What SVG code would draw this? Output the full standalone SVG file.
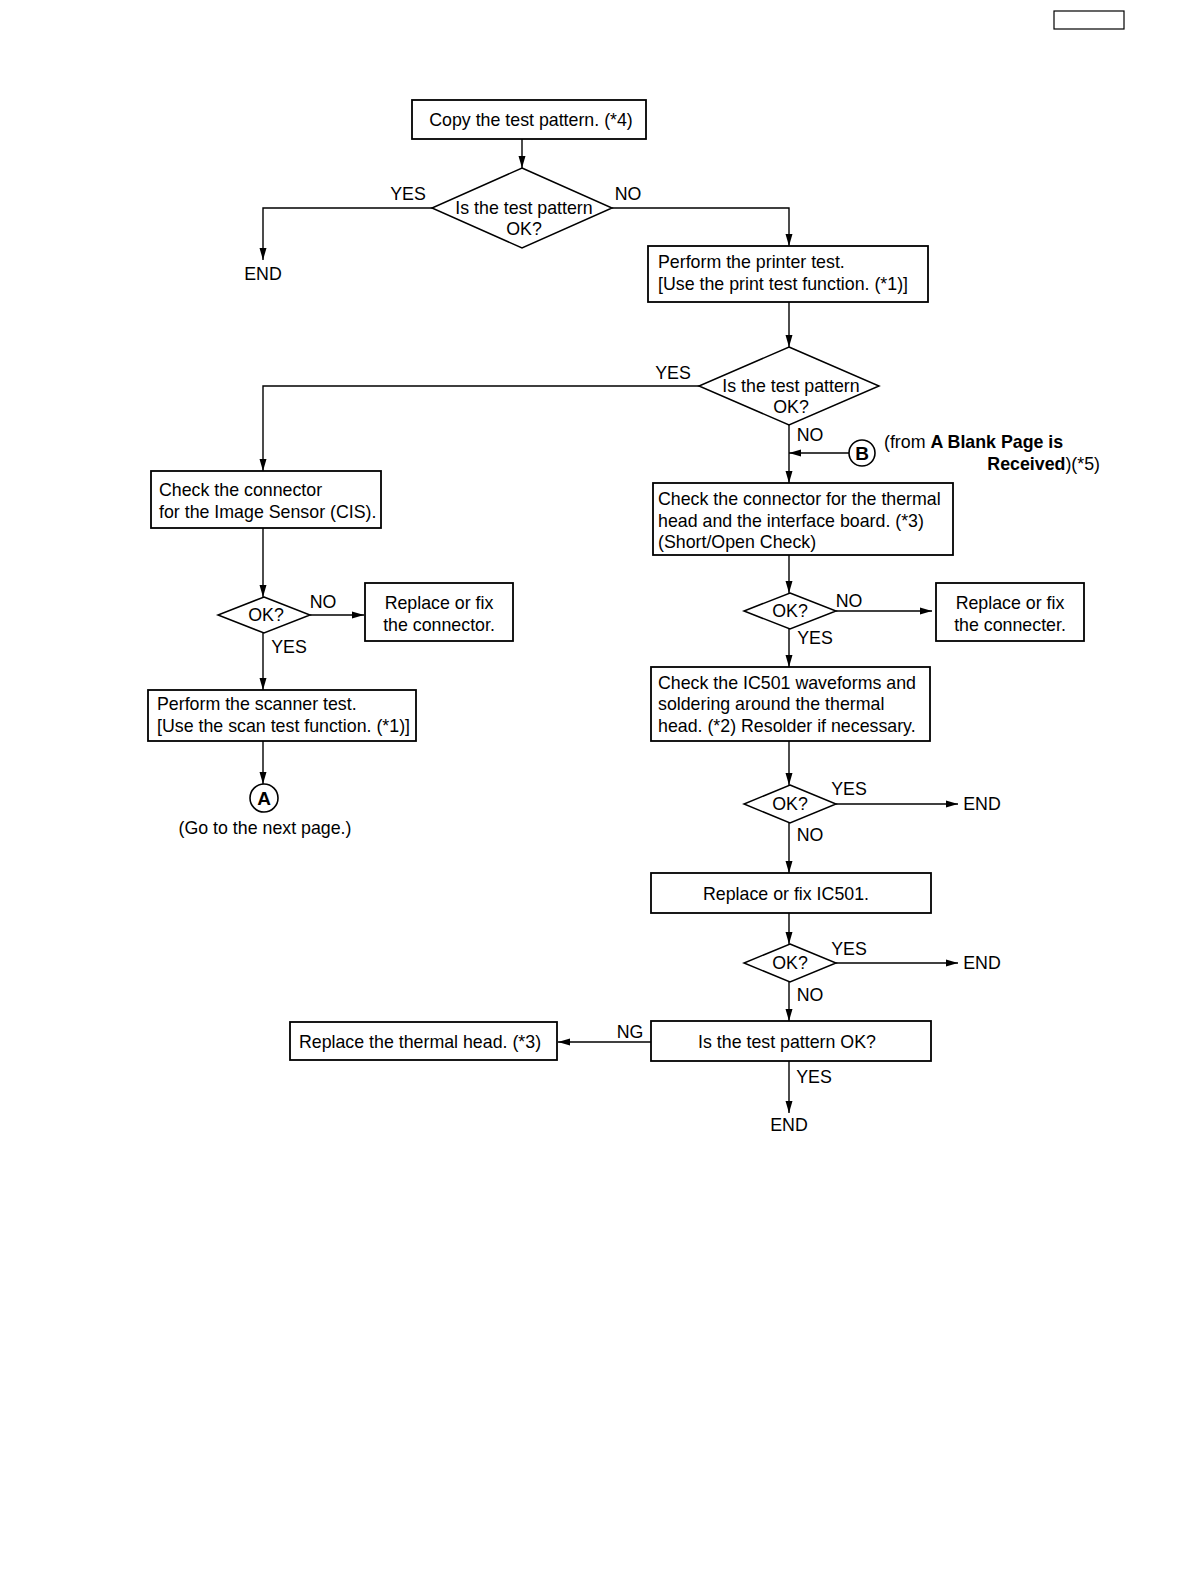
<svg xmlns="http://www.w3.org/2000/svg" width="1192" height="1584" viewBox="0 0 1192 1584">
<defs>
<marker id="ah" viewBox="0 0 12 10" refX="12" refY="5" markerWidth="12" markerHeight="10" markerUnits="userSpaceOnUse" orient="auto">
<path d="M0,1.5 L12,5 L0,8.5 Z" fill="#000"/>
</marker>
<style>
rect.b{fill:#fff;stroke:#000;stroke-width:1.8}
polygon.d{fill:#fff;stroke:#000;stroke-width:1.5}
circle.c{fill:#fff;stroke:#000;stroke-width:1.6}
.ln{fill:none;stroke:#000;stroke-width:1.4}
.ar{fill:none;stroke:#000;stroke-width:1.4;marker-end:url(#ah)}
text{font-family:"Liberation Sans",Arial,sans-serif;font-size:17.8px;fill:#000}
.m{text-anchor:middle}
.bd{font-weight:bold}
</style>
</defs>
<rect x="1054" y="11" width="70" height="18" fill="none" stroke="#000" stroke-width="1.2"/>
<g id="connectors">
<path class="ar" d="M522,139 V168"/>
<path class="ar" d="M432,208 H263 V260"/>
<path class="ar" d="M612,208 H789 V246"/>
<path class="ar" d="M789,302 V347"/>
<path class="ar" d="M699,386 H263 V471"/>
<path class="ar" d="M789,425 V483"/>
<path class="ar" d="M849,453 H789"/>
<path class="ar" d="M263,528 V597"/>
<path class="ar" d="M310,615 H364"/>
<path class="ar" d="M263,633 V690"/>
<path class="ar" d="M263,741 V784"/>
<path class="ar" d="M789,555 V593"/>
<path class="ar" d="M836,611 H932"/>
<path class="ar" d="M789,629 V667"/>
<path class="ar" d="M789,741 V785"/>
<path class="ar" d="M836,804 H958"/>
<path class="ar" d="M789,823 V873"/>
<path class="ar" d="M789,913 V944"/>
<path class="ar" d="M836,963 H958"/>
<path class="ar" d="M789,982 V1021"/>
<path class="ar" d="M651,1042 H558"/>
<path class="ar" d="M789,1061 V1113"/>
<text x="408" y="200" class="m">YES</text>
<text x="628" y="200" class="m">NO</text>
<text x="673" y="379" class="m">YES</text>
<text x="810" y="441" class="m">NO</text>
<text x="323" y="608" class="m">NO</text>
<text x="289" y="653" class="m">YES</text>
<text x="849" y="607" class="m">NO</text>
<text x="815" y="644" class="m">YES</text>
<text x="849" y="795" class="m">YES</text>
<text x="810" y="841" class="m">NO</text>
<text x="849" y="955" class="m">YES</text>
<text x="810" y="1001" class="m">NO</text>
<text x="630" y="1038" class="m">NG</text>
<text x="814" y="1083" class="m">YES</text>
</g>
<g id="n1"><rect class="b" x="412" y="100" width="234" height="39"/><text x="531" y="126" class="m">Copy the test pattern. (*4)</text></g>
<g id="d1"><polygon class="d" points="522,168 612,208 522,248 432,208"/><text x="524" y="214" class="m">Is the test pattern</text><text x="524" y="235" class="m">OK?</text></g>
<g id="end1"><text x="263" y="280" class="m">END</text></g>
<g id="n2"><rect class="b" x="648" y="246" width="280" height="56"/><text x="658" y="268">Perform the printer test.</text><text x="658" y="290">[Use the print test function. (*1)]</text></g>
<g id="d2"><polygon class="d" points="789,347 879,386 789,425 699,386"/><text x="791" y="392" class="m">Is the test pattern</text><text x="791" y="413" class="m">OK?</text></g>
<g id="B"><circle class="c" cx="862" cy="453" r="13"/><text x="862" y="460" class="m bd" style="font-size:19px">B</text>
<text x="884" y="448">(from <tspan class="bd">A Blank Page is</tspan></text>
<text x="1100" y="470" text-anchor="end"><tspan class="bd">Received</tspan>)(*5)</text></g>
<g id="n3"><rect class="b" x="151" y="471" width="230" height="57"/><text x="159" y="496">Check the connector</text><text x="159" y="518">for the Image Sensor (CIS).</text></g>
<g id="d3"><polygon class="d" points="264,597 310,615 264,633 218,615"/><text x="266" y="621" class="m">OK?</text></g>
<g id="n4"><rect class="b" x="365" y="583" width="148" height="58"/><text x="439" y="609" class="m">Replace or fix</text><text x="439" y="631" class="m">the connector.</text></g>
<g id="n5"><rect class="b" x="148" y="690" width="268" height="51"/><text x="157" y="710">Perform the scanner test.</text><text x="157" y="732">[Use the scan test function. (*1)]</text></g>
<g id="A"><circle class="c" cx="264" cy="798" r="14"/><text x="264" y="805" class="m bd" style="font-size:19px">A</text><text x="265" y="834" class="m">(Go to the next page.)</text></g>
<g id="n6"><rect class="b" x="653" y="483" width="300" height="72"/><text x="658" y="505">Check the connector for the thermal</text><text x="658" y="527">head and the interface board. (*3)</text><text x="658" y="548">(Short/Open Check)</text></g>
<g id="d4"><polygon class="d" points="790,593 836,611 790,629 744,611"/><text x="790" y="617" class="m">OK?</text></g>
<g id="n7"><rect class="b" x="936" y="583" width="148" height="58"/><text x="1010" y="609" class="m">Replace or fix</text><text x="1010" y="631" class="m">the connecter.</text></g>
<g id="n8"><rect class="b" x="651" y="667" width="279" height="74"/><text x="658" y="689">Check the IC501 waveforms and</text><text x="658" y="710">soldering around the thermal</text><text x="658" y="732">head. (*2) Resolder if necessary.</text></g>
<g id="d5"><polygon class="d" points="790,785 836,804 790,823 744,804"/><text x="790" y="810" class="m">OK?</text></g>
<g id="end2"><text x="982" y="810" class="m">END</text></g>
<g id="n9"><rect class="b" x="651" y="873" width="280" height="40"/><text x="786" y="900" class="m">Replace or fix IC501.</text></g>
<g id="d6"><polygon class="d" points="790,944 836,963 790,982 744,963"/><text x="790" y="969" class="m">OK?</text></g>
<g id="end3"><text x="982" y="969" class="m">END</text></g>
<g id="n10"><rect class="b" x="651" y="1021" width="280" height="40"/><text x="787" y="1048" class="m">Is the test pattern OK?</text></g>
<g id="n11"><rect class="b" x="290" y="1022" width="267" height="38"/><text x="420" y="1048" class="m">Replace the thermal head. (*3)</text></g>
<g id="end4"><text x="789" y="1131" class="m">END</text></g>
</svg>
